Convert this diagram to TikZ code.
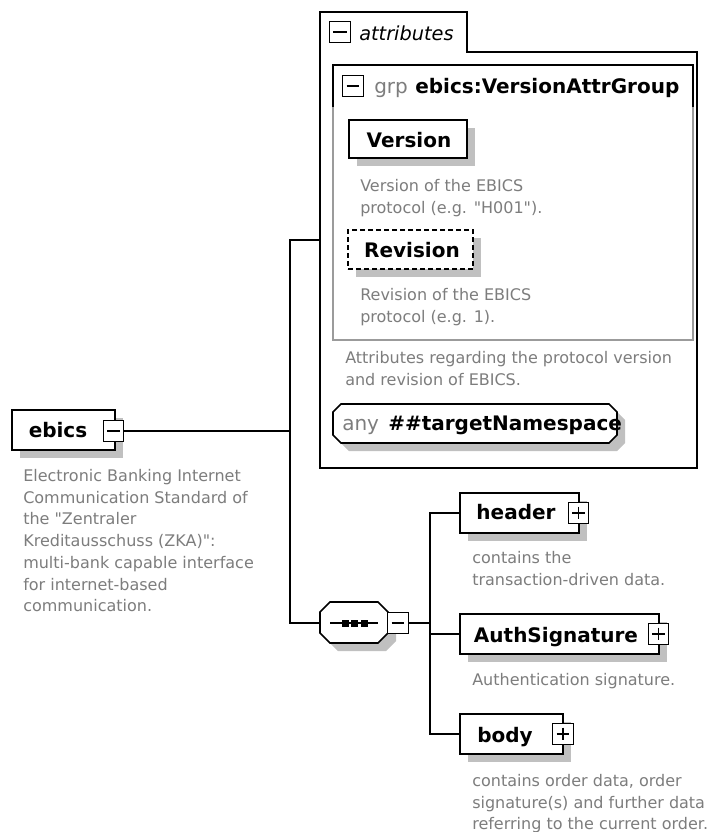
\documentclass[tikz,border=0pt]{standalone}
\usepackage{fontspec}
\setmainfont{DejaVu Sans}
\usetikzlibrary{fit,calc,shadows}
\definecolor{desctext}{RGB}{125,125,125}
\definecolor{shadegray}{RGB}{192,192,192}
\definecolor{grpgray}{RGB}{155,155,155}
% first-line strut so that a note's top sits a fixed distance above its first baseline
\newcommand\notestrut{\rule{0pt}{9pt}}
\tikzset{
  conn/.style={line width=1pt, black},
  frame/.style={inner sep=0pt, outer sep=0pt},
  elembox/.style={frame, draw, line width=1.2pt, fill=white,
    drop shadow={shadow xshift=6pt, shadow yshift=-6pt, fill=shadegray, opacity=1}},
  optbox/.style={elembox, dash pattern=on 3.5pt off 2.5pt},
  lbl/.style={inner sep=0pt, anchor=base, font=\fontsize{15}{18}\selectfont\bfseries},
  note/.style={inner sep=0pt, anchor=north west, align=left, text=desctext,
    font=\fontsize{12}{16.3}\selectfont},
  tog/.style={draw, line width=0.9pt, fill=white, minimum size=15.5pt, inner sep=0pt},
  minus/.style={tog, path picture={\draw[line width=0.9pt]
    ([xshift=3pt]path picture bounding box.west) -- ([xshift=-3pt]path picture bounding box.east);}},
  plus/.style={tog, path picture={\draw[line width=0.9pt]
    ([xshift=3pt]path picture bounding box.west) -- ([xshift=-3pt]path picture bounding box.east)
    ([yshift=-3pt]path picture bounding box.north) -- ([yshift=3pt]path picture bounding box.south);}},
}
\begin{document}
\begin{tikzpicture}[x=0.75pt,y=-0.75pt]
\fill[white] (0,0) rectangle (708,832);
\useasboundingbox (0,0) rectangle (708,832);

% ---- attributes container with tab ----
\node[frame, fit={(320,12) (697,468)}] (attrs) {};
\draw[line width=1pt] (320,468) -- (320,12) -- (467,12) -- (467,52) -- (697,52) -- (697,468) -- cycle;
\node[minus, minimum size=16pt] (attrsminus) at (340,32) {};
\node[anchor=base west, inner sep=0pt, font=\fontsize{14.5}{17}\selectfont\itshape] (attrslbl) at (359,40) {attributes};

% ---- attribute group ----
\node[frame, fit={(333,65) (693,340)}] (grp) {};
\draw[grpgray, line width=1pt] (grp.north west) rectangle (grp.south east);
\draw[line width=1pt] (333,107) -- (333,65) -- (693,65) -- (693,107);
\node[minus] (grpminus) at (353,86) {};
\node[anchor=base west, inner sep=0pt, text=desctext, font=\fontsize{15}{18}\selectfont] (grpkw) at (374,93) {grp};
\node[lbl, anchor=base west] (grpname) at (415,93) {ebics:VersionAttrGroup};

\node[elembox, fit={(349,120) (467,158)}] (version) {};
\node[lbl] (versionlbl) at (409,147) {Version};
\node[note] (versionnote) at (360,179) {\notestrut Version of the EBICS\\protocol (e.g. \textquotedbl H001\textquotedbl).};

\node[optbox, fit={(348,230) (473,269)}] (revision) {};
\node[lbl] (revisionlbl) at (412,257) {Revision};
\node[note] (revisionnote) at (360,288) {\notestrut Revision of the EBICS\\protocol (e.g. 1).};

\node[note] (attrsnote) at (345,351) {\notestrut Attributes regarding the protocol version\\and revision of EBICS.};

% ---- wildcard ----
\node[frame, fit={(333,404) (617,443)}] (any) {};
\fill[shadegray] (341,412) -- (617,412) -- (625,420) -- (625,443) -- (617,451) -- (349,451) -- (341,443) -- cycle;
\draw[line width=1.2pt, fill=white] (341,404) -- (609,404) -- (617,412) -- (617,435) -- (609,443) -- (341,443) -- (333,435) -- (333,412) -- cycle;
\node[anchor=base west, inner sep=0pt, text=desctext, font=\fontsize{15}{18}\selectfont] (anykw) at (342,430) {any};
\node[lbl, anchor=base west] (anyns) at (388,430) {\#\#targetNamespace};

% ---- root element ----
\node[elembox, fit={(12,410) (115,450)}] (ebics) {};
\node[lbl] (ebicslbl) at (58,437) {ebics};
\node[minus] (ebicsminus) at (113.5,431) {};
\node[note] (ebicsnote) at (23,469) {\notestrut Electronic Banking Internet\\Communication Standard of\\the \textquotedbl Zentraler\\Kreditausschuss (ZKA)\textquotedbl:\\multi-bank capable interface\\for internet-based\\communication.};

% ---- sequence compositor ----
\node[frame, fit={(320,602) (388,644)}] (seq) {};
\fill[shadegray] (338,610) -- (386,610) -- (396,620) -- (396,641) -- (386,651) -- (338,651) -- (328,641) -- (328,620) -- cycle;
\draw[line width=1.2pt, fill=white] (330,602) -- (378,602) -- (388,612) -- (388,633) -- (378,643) -- (330,643) -- (320,633) -- (320,612) -- cycle;
\draw[line width=0.9pt] (330,623) -- (378,623);
\foreach \cx in {345.5,354.5,364} \fill (\cx-3.5,619.5) rectangle (\cx+3.5,626.5);
\node[minus] (seqminus) at (398,623) {};

% ---- child elements ----
\node[elembox, fit={(460,493) (579,533)}] (header) {};
\node[lbl] (headerlbl) at (516,519) {header};
\node[plus] (headerplus) at (578.5,513) {};
\node[note] (headernote) at (472,551) {\notestrut contains the\\transaction-driven data.};

\node[elembox, fit={(460,614) (659,654)}] (auth) {};
\node[lbl] (authlbl) at (556,642) {AuthSignature};
\node[plus] (authplus) at (658.5,634) {};
\node[note] (authnote) at (472,673) {\notestrut Authentication signature.};

\node[elembox, fit={(460,714) (563,754)}] (body) {};
\node[lbl] (bodylbl) at (505,742) {body};
\node[plus] (bodyplus) at (563,734) {};
\node[note] (bodynote) at (472,774) {\notestrut contains order data, order\\signature(s) and further data\\referring to the current order.};

% ---- connectors ----
\coordinate (trunk) at (290,431);
\coordinate (branch) at (430,623);
\draw[conn] (ebicsminus.east) -- (trunk);
\draw[conn] (attrs.west) -- (attrs.west -| trunk) -- (seq.west -| trunk) -- (seq.west);
\draw[conn] (seqminus.east) -- (branch);
\draw[conn] (header.west) -- (header.west -| branch) -- (body.west -| branch) -- (body.west);
\draw[conn] (auth.west -| branch) -- (auth.west);
\end{tikzpicture}
\end{document}
